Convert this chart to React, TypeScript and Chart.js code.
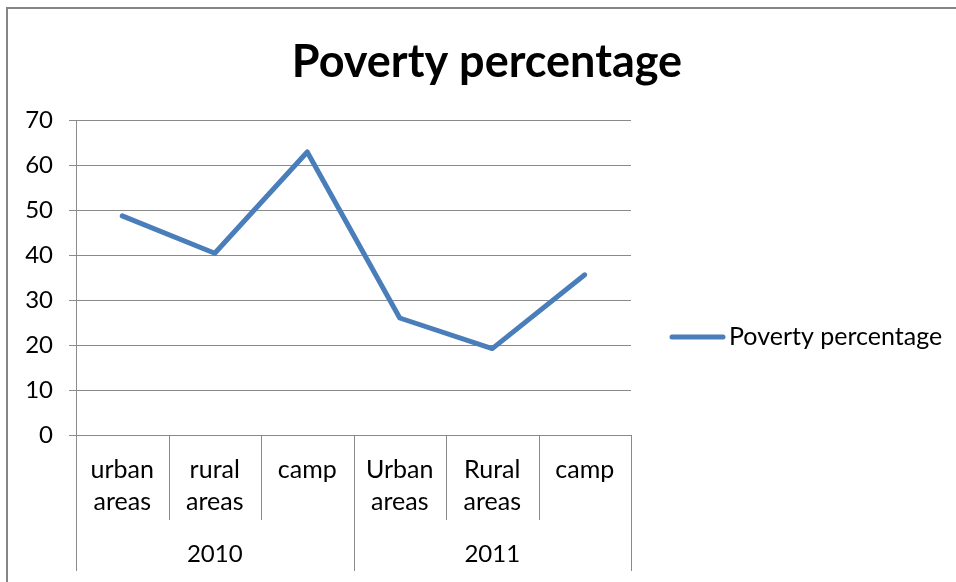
import React, { useEffect, useRef } from "react";
import { Chart, registerables } from "chart.js";

Chart.register(...registerables);

const categories: string[][] = [
  ["urban", "areas"],
  ["rural", "areas"],
  ["camp"],
  ["Urban", "areas"],
  ["Rural", "areas"],
  ["camp"],
];
const years: string[] = ["2010", "2011"];
const groupSize = 3;
const povertyValues: number[] = [48.7, 40.4, 62.9, 26.0, 19.2, 35.6];
const seriesLabel = "Poverty percentage";
const yTicks: number[] = [0, 10, 20, 30, 40, 50, 60, 70];

const FONT = "Lato, 'Open Sans', sans-serif";
const GRID = "#8a8a8a";
const LINE = "#4a7ebb";

const groupPlugin = {
  id: "groupAxis",
  afterDraw(chart: any) {
    const x = chart.scales.x;
    const ctx = chart.ctx;
    const n = categories.length;
    const bounds: number[] = [];
    for (let i = 0; i <= n; i++) {
      if (i === 0) bounds.push(x.left);
      else if (i === n) bounds.push(x.right);
      else bounds.push((x.getPixelForValue(i - 1) + x.getPixelForValue(i)) / 2);
    }
    ctx.save();
    ctx.strokeStyle = GRID;
    ctx.lineWidth = 1;
    bounds.forEach((b, i) => {
      const px = Math.round(b) + 0.5;
      const end = i % groupSize === 0 ? x.top + 136 : x.top + 85;
      ctx.beginPath();
      ctx.moveTo(px, x.top);
      ctx.lineTo(px, end);
      ctx.stroke();
    });
    ctx.fillStyle = "#000";
    ctx.font = `24px ${FONT}`;
    ctx.textAlign = "center";
    ctx.textBaseline = "middle";
    years.forEach((yr, g) => {
      const cx = (bounds[g * groupSize] + bounds[(g + 1) * groupSize]) / 2;
      ctx.fillText(yr, cx, x.top + 119);
    });

    // legend
    const ds = chart.data.datasets[0];
    const ly = chart.chartArea.bottom - 98;
    const lx = chart.chartArea.right + 39;
    ctx.strokeStyle = ds.borderColor;
    ctx.lineWidth = 5;
    ctx.lineCap = "round";
    ctx.beginPath();
    ctx.moveTo(lx + 2, ly);
    ctx.lineTo(lx + 53, ly);
    ctx.stroke();
    ctx.textAlign = "left";
    ctx.fillStyle = "#000";
    ctx.font = `25px ${FONT}`;
    ctx.fillText(ds.label, lx + 59, ly);
    ctx.restore();
  },
};

export default function App() {
  const ref = useRef<HTMLCanvasElement | null>(null);
  useEffect(() => {
    if (!ref.current) return;
    const chart = new Chart(ref.current, {
      type: "line",
      data: {
        labels: categories,
        datasets: [
          {
            label: seriesLabel,
            data: povertyValues,
            borderColor: LINE,
            backgroundColor: LINE,
            borderWidth: 5,
            pointRadius: 0,
            pointHoverRadius: 0,
            tension: 0,
            borderJoinStyle: "round",
            borderCapStyle: "round",
            yAxisID: "y",
          },
        ],
      },
      options: {
        animation: false,
        responsive: false,
        maintainAspectRatio: false,
        layout: { padding: { left: 10, right: 0, top: 0, bottom: 0 } },
        plugins: {
          legend: { display: false },
          tooltip: { enabled: false },
          title: {
            display: true,
            text: "Poverty percentage",
            color: "#000",
            font: { family: FONT, size: 45, weight: "bold", lineHeight: 1.2 },
            padding: { top: 26, bottom: 31 },
          },
        },
        scales: {
          x: {
            type: "category",
            offset: true,
            grid: { display: false, drawTicks: false },
            border: { display: true, color: GRID },
            ticks: {
              color: "#000",
              maxRotation: 0,
              autoSkip: false,
              padding: 19,
              font: { family: FONT, size: 25, lineHeight: 1.28 },
            },
            afterFit: (s: any) => {
              s.height = 147;
            },
          },
          y: {
            type: "linear",
            position: "left",
            min: 0,
            max: 70,
            afterBuildTicks: (s: any) => {
              s.ticks = yTicks.map((v) => ({ value: v }));
            },
            grid: { color: GRID, tickLength: 7, tickColor: GRID, lineWidth: 1 },
            border: { display: true, color: GRID },
            ticks: {
              color: "#000",
              padding: 16,
              font: { family: FONT, size: 24 },
            },
            afterFit: (s: any) => {
              s.width = 58;
            },
          },
          y2: {
            type: "linear",
            position: "right",
            display: true,
            grid: { display: false, drawTicks: false },
            border: { display: false },
            ticks: { display: false },
            afterFit: (s: any) => {
              s.width = 325;
            },
          },
        },
      },
      plugins: [groupPlugin],
    });
    return () => chart.destroy();
  }, []);

  return (
    <div
      style={{
        position: "fixed",
        left: 6,
        top: 7,
        width: 950,
        height: 575,
        borderLeft: "2px solid #858585",
        borderTop: "2px solid #858585",
        background: "#fff",
      }}
    >
      <canvas ref={ref} width={948} height={573} style={{ display: "block" }} />
    </div>
  );
}
